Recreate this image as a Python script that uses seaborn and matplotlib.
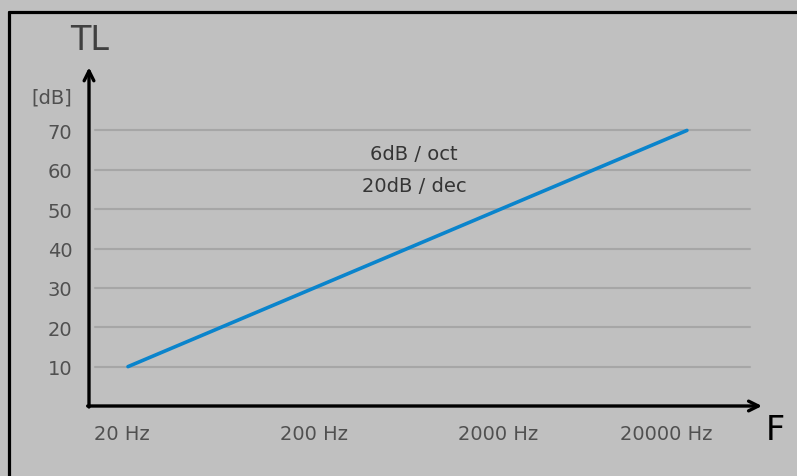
import numpy as np
import pandas as pd
import seaborn as sns
import matplotlib.pyplot as plt
from matplotlib.lines import Line2D
from matplotlib.transforms import ScaledTranslation

# data
freq_hz = [20, 200, 2000, 20000]
tl_db = [10, 30, 50, 70]
xtick_labels = ['20 Hz', '200 Hz', '2000 Hz', '20000 Hz']
ytick_vals = [10, 20, 30, 40, 50, 60, 70]

df = pd.DataFrame({'freq': freq_hz, 'tl': tl_db})

bg = '#c0c0c0'
sns.set_style("white", {'axes.facecolor': bg, 'figure.facecolor': bg})
plt.rcParams['font.family'] = ['DejaVu Sans']

fig = plt.figure(figsize=(7.97, 4.77), dpi=100)
W, H = 797, 477
ax = fig.add_axes([89 / W, 70 / H, (760 - 89) / W, (407 - 70) / H])
ax.set_facecolor(bg)

ax.set_xscale('log')
ax.set_xlim(12.35, 49350)
ax.set_ylim(0, 85.6)

# grid lines (start a little right of the axis)
gx0 = (95 - 89) / (760 - 89)
gx1 = (750 - 89) / (760 - 89)
for v in ytick_vals:
    ax.axhline(v, xmin=gx0, xmax=gx1, color='#a6a6a6', lw=1.5, zorder=1)

sns.lineplot(data=df, x='freq', y='tl', ax=ax, color='#0a84cc', lw=2.6, zorder=3)

for s in ax.spines.values():
    s.set_visible(False)

# axis arrows
akw = dict(arrowstyle='->,head_length=0.7,head_width=0.35', lw=2.4, color='black',
           shrinkA=0, shrinkB=0)
ax.annotate('', xy=(0, 1.005), xytext=(0, -0.003), xycoords='axes fraction',
            arrowprops=akw, annotation_clip=False)
ax.annotate('', xy=(1.003, 0), xytext=(-0.002, 0), xycoords='axes fraction',
            arrowprops=akw, annotation_clip=False)

ax.set_yticks(ytick_vals)
ax.set_yticklabels([str(v) for v in ytick_vals])
ax.set_xticks(freq_hz)
ax.set_xticklabels(xtick_labels)
ax.minorticks_off()
ax.tick_params(axis='both', length=0, labelsize=14, colors='#505050')
ax.tick_params(axis='y', pad=12)
ax.tick_params(axis='x', pad=13)
ax.set_xlabel('')
ax.set_ylabel('')

# small shifts on the outer x labels
for lbl, dx in zip(ax.get_xticklabels(), [-6, 0, -2, -21]):
    lbl.set_transform(lbl.get_transform() + ScaledTranslation(dx / 100, 0, fig.dpi_scale_trans))

# texts
fig.text(90 / W, 1 - 40 / H, 'TL', fontsize=24, color='#404040', ha='center', va='center')
fig.text(72 / W, 1 - 98 / H, '[dB]', fontsize=14, color='#505050', ha='right', va='center')
fig.text(775 / W, 1 - 431 / H, 'F', fontsize=24, color='black', ha='center', va='center')
fig.text(414 / W, 1 - 155 / H, '6dB / oct', fontsize=14, color='#353535', ha='center', va='center')
fig.text(414 / W, 1 - 187 / H, '20dB / dec', fontsize=14, color='#353535', ha='center', va='center')

# outer frame (top and left edges)
fig.add_artist(Line2D([9 / W, 1], [1 - 13 / H, 1 - 13 / H], color='black', lw=2.3,
                      transform=fig.transFigure))
fig.add_artist(Line2D([9 / W, 9 / W], [0, 1 - 13 / H], color='black', lw=2.3,
                      transform=fig.transFigure))

fig.savefig('out.png', dpi=100, facecolor=bg)
